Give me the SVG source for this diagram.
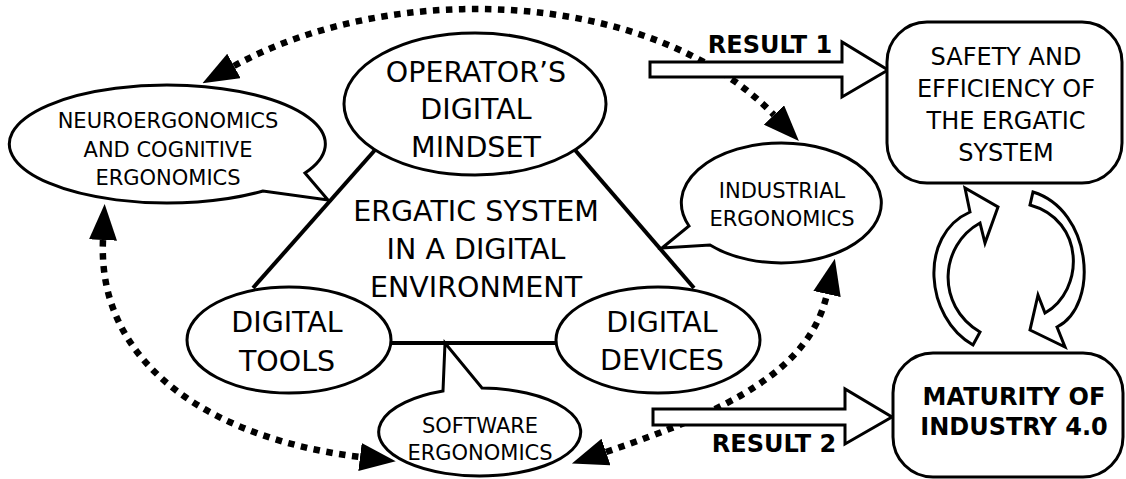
<svg xmlns="http://www.w3.org/2000/svg" width="1126" height="479" viewBox="0 0 1126 479">
<defs>
<style>
.n{fill:#fff;stroke:#000;stroke-width:3}
.t{font-family:"DejaVu Sans","Liberation Sans",sans-serif;fill:#000;text-anchor:middle}
.big{font-size:28.5px}
.sm{font-size:21px}
.md{font-size:24px}
.b{font-weight:bold;font-size:24px}
.edge{stroke:#000;stroke-width:4;fill:none}
.dot{stroke:#000;stroke-width:6.5;stroke-dasharray:6.5 6.5;fill:none;marker-start:url(#ah);marker-end:url(#ah)}
.blk{fill:#fff;stroke:#000;stroke-width:3;stroke-linejoin:miter}
</style>
<marker id="ah" markerUnits="userSpaceOnUse" markerWidth="36" markerHeight="28" viewBox="0 0 36 28" refX="0" refY="14" orient="auto-start-reverse"><path d="M0,0 L36,14 L0,28 Z" fill="#000"/></marker>
</defs>
<rect width="1126" height="479" fill="#fff"/>
<g id="connectors">
<path class="edge" d="M375,150 L253,288"/>
<path class="edge" d="M575,150 L694,288"/>
<path class="edge" d="M390,343 H557"/>
<path class="dot" d="M234,66 C394,-22 654,-10 774,115"/>
<path class="dot" d="M103,240 C97,370 220,440 360,457"/>
<path class="dot" d="M606,452 C730,410 810,370 827,294"/>
<path class="blk" d="M650,62 H842 V42 L888,70 L842,97 V77 H650 Z"/>
<path class="blk" d="M653,409 H845 V389 L892,417 L845,444 V425 H653 Z"/>
<path class="blk" d="M973,345 C925,318 918,235 970,212 L965,188 L998,207 L985,243 L980,223 C940,245 935,305 980,332 Z"/>
<path class="blk" d="M1033,192 C1092,210 1100,305 1057,327 L1065,347 L1030,330 L1038,295 L1045,313 C1085,290 1085,220 1030,205 Z"/>
<text class="t b" x="770" y="53">RESULT 1</text>
<text class="t b" x="774" y="452">RESULT 2</text>
</g>
<g id="center">
<text class="t big" x="476" y="221">ERGATIC SYSTEM</text>
<text class="t big" x="476" y="259">IN A DIGITAL</text>
<text class="t big" x="476" y="297">ENVIRONMENT</text>
</g>
<g id="operator">
<ellipse class="n" cx="475" cy="104" rx="131" ry="71"/>
<text class="t big" x="476" y="82">OPERATOR’S</text>
<text class="t big" x="476" y="119">DIGITAL</text>
<text class="t big" x="476" y="157">MINDSET</text>
</g>
<g id="neuro">
<path class="n" d="M263,191 A158,59 0 1 1 305,173 L328,200 Z"/>
<text class="t sm" x="168" y="128">NEUROERGONOMICS</text>
<text class="t sm" x="168" y="157">AND COGNITIVE</text>
<text class="t sm" x="168" y="185">ERGONOMICS</text>
</g>
<g id="industrial">
<path class="n" d="M689,226 A100,60 0 1 1 710,245 L662,248 Z"/>
<text class="t sm" x="782" y="198">INDUSTRIAL</text>
<text class="t sm" x="782" y="226">ERGONOMICS</text>
</g>
<g id="software">
<path class="n" d="M482,388 A101,44 0 1 1 443,391 L445,343 Z"/>
<text class="t sm" x="480" y="433">SOFTWARE</text>
<text class="t sm" x="480" y="460">ERGONOMICS</text>
</g>
<g id="tools">
<ellipse class="n" cx="289" cy="340" rx="102" ry="53"/>
<text class="t big" x="287" y="332">DIGITAL</text>
<text class="t big" x="287" y="371">TOOLS</text>
</g>
<g id="devices">
<ellipse class="n" cx="658" cy="340" rx="102" ry="53"/>
<text class="t big" x="662" y="332">DIGITAL</text>
<text class="t big" x="662" y="370">DEVICES</text>
</g>
<g id="safety">
<rect class="n" x="887" y="22" width="235" height="161" rx="40"/>
<text class="t md" x="1006" y="65">SAFETY AND</text>
<text class="t md" x="1006" y="97">EFFICIENCY OF</text>
<text class="t md" x="1006" y="129">THE ERGATIC</text>
<text class="t md" x="1006" y="161">SYSTEM</text>
</g>
<g id="maturity">
<rect class="n" x="893" y="353" width="230" height="124" rx="40"/>
<text class="t b" x="1014" y="405">MATURITY OF</text>
<text class="t b" x="1014" y="435">INDUSTRY 4.0</text>
</g>
</svg>
